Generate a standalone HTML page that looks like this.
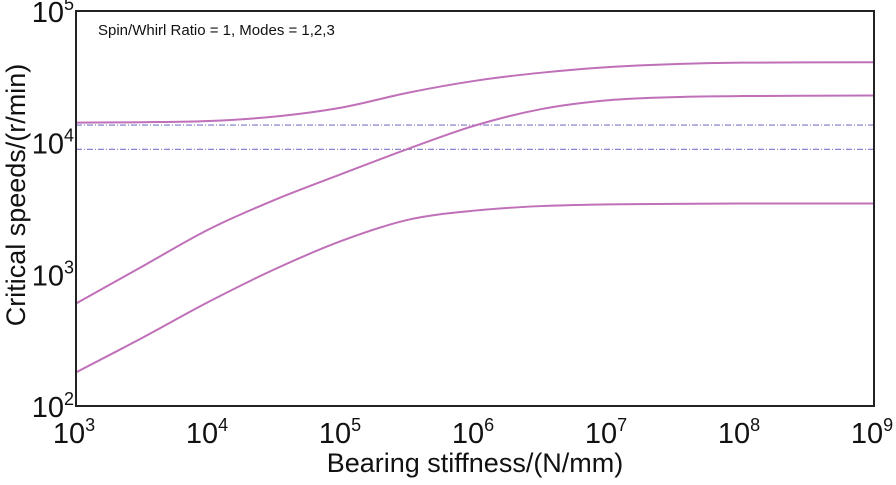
<!DOCTYPE html>
<html><head><meta charset="utf-8"><style>
body{margin:0;background:#fff;}
svg text{font-family:"Liberation Sans",Arial,sans-serif;fill:#111;}
</style></head><body>
<svg width="896" height="480" id="chart">
<rect x="0" y="0" width="896" height="480" fill="#fff"/>
<g id="grid"></g>
<g id="lines"></g>
<rect x="76" y="11" width="798" height="395" fill="none" stroke="#222" stroke-width="2"/>
<g id="ticks"></g>
<text x="98" y="35" font-size="15" fill="#333">Spin/Whirl Ratio = 1, Modes = 1,2,3</text>
<text x="475" y="472" font-size="27" text-anchor="middle">Bearing stiffness/(N/mm)</text>
<text transform="translate(25,195) rotate(-90)" font-size="27" text-anchor="middle">Critical speeds/(r/min)</text>
</svg>
<script>
const xExp = [3,3.5,4,4.5,5,5.5,6,6.5,7,7.5,8,9];
const mode1 = [180,330,620,1100,1800,2600,3050,3300,3400,3430,3450,3450];
const mode2 = [600,1150,2200,3700,5800,9000,13500,18000,21000,22200,22600,22800];
const mode3 = [14200,14300,14600,15800,18500,24000,29500,34000,37500,39500,40500,40800];
const refLines = [13600,8900];
const xTicks = [3,4,5,6,7,8,9];
const yTicks = [2,3,4,5];
const L=76,R=874,T=11,B=406;
const sx = e => L + (e-3)/6*(R-L);
const sy = v => B - (Math.log10(v)-2)/3*(B-T);
const NS='http://www.w3.org/2000/svg';
function mk(t,a,p){const e=document.createElementNS(NS,t);for(const k in a)e.setAttribute(k,a[k]);p.appendChild(e);return e;}
const lines=document.getElementById('lines'), ticks=document.getElementById('ticks');
function smooth(pts){let d='M'+pts[0][0]+','+pts[0][1];
 for(let i=0;i<pts.length-1;i++){const p0=pts[Math.max(0,i-1)],p1=pts[i],p2=pts[i+1],p3=pts[Math.min(pts.length-1,i+2)];
  const c1=[p1[0]+(p2[0]-p0[0])/6,p1[1]+(p2[1]-p0[1])/6],c2=[p2[0]-(p3[0]-p1[0])/6,p2[1]-(p3[1]-p1[1])/6];
  d+=' C'+c1[0]+','+c1[1]+' '+c2[0]+','+c2[1]+' '+p2[0]+','+p2[1];}return d;}
refLines.forEach((v,i)=>{const l=mk('line',{x1:L,x2:R,y1:sy(v),y2:sy(v),stroke:'#7a78c8','stroke-width':1.2,'stroke-dasharray':'6,2,1,2'},lines);

});
[mode1,mode2,mode3].forEach((s,i)=>{const p=mk('path',{d:smooth(xExp.map((e,j)=>[sx(e),sy(s[j])])),fill:'none',stroke:'#c070b8','stroke-width':2},lines);

});
xTicks.forEach(e=>{const t=mk('text',{x:sx(e)-2,y:443,'font-size':29,'text-anchor':'middle'},ticks);
t.innerHTML='10<tspan dy="-12" font-size="18">'+e+'</tspan>';

});
yTicks.forEach(e=>{const t=mk('text',{x:74,y:sy(Math.pow(10,e))+11,'font-size':29,'text-anchor':'end'},ticks);
t.innerHTML='10<tspan dy="-12" font-size="18">'+e+'</tspan>';

});
</script>
</body></html>
